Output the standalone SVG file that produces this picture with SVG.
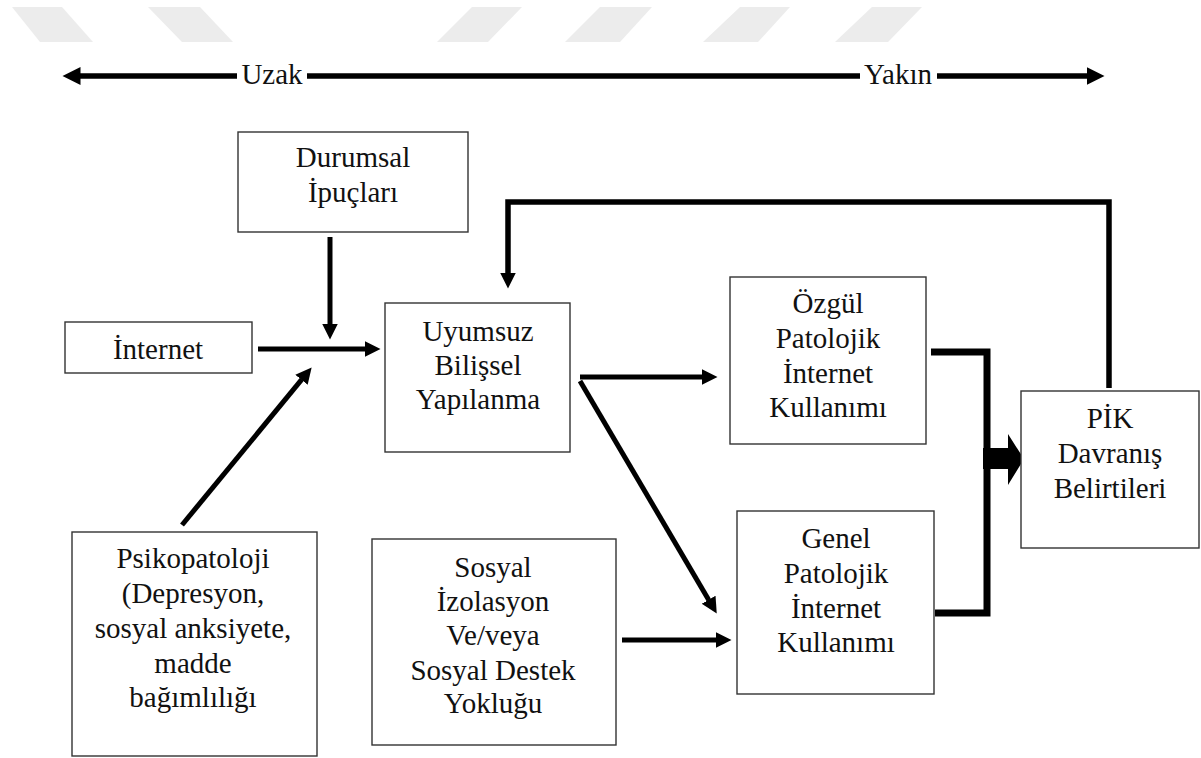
<svg xmlns="http://www.w3.org/2000/svg" width="1201" height="758" viewBox="0 0 1201 758">
<style>
.box{fill:#fff;stroke:#333;stroke-width:1.4}
.t{font-size:29px;fill:#111;text-anchor:middle}
.c{fill:none;stroke:#000;stroke-width:5}
.wm{fill:#ececec}
</style>
<defs>
<marker id="ah" markerUnits="userSpaceOnUse" markerWidth="17" markerHeight="17" refX="0.5" refY="8" orient="auto">
<path d="M0,0 L16,8 L0,16 z" fill="#000"/>
</marker>
<marker id="ah2" markerUnits="userSpaceOnUse" markerWidth="19" markerHeight="19" refX="0.5" refY="9" orient="auto">
<path d="M0,0 L18,9 L0,18 z" fill="#000"/>
</marker>
</defs>
<rect width="1201" height="758" fill="#fff"/>
<g id="watermark">
<polygon class="wm" points="12,7 62,7 93,42 40,42"/>
<polygon class="wm" points="148,7 200,7 233,42 182,42"/>
<polygon class="wm" points="472,7 522,7 488,42 437,42"/>
<polygon class="wm" points="600,7 652,7 620,42 565,42"/>
<polygon class="wm" points="740,7 790,7 758,42 703,42"/>
<polygon class="wm" points="872,7 922,7 888,42 835,42"/>
</g>
<g id="scale">
<line class="c" x1="237" y1="76" x2="80" y2="76" marker-end="url(#ah2)" style="stroke-width:5.5"/>
<line class="c" x1="307" y1="76" x2="860" y2="76" style="stroke-width:5.5"/>
<line class="c" x1="937" y1="76" x2="1087" y2="76" marker-end="url(#ah2)" style="stroke-width:5.5"/>
<text class="t" font-family="Times New Roman" x="272" y="84">Uzak</text>
<text class="t" font-family="Tinos" x="898" y="84">Yakın</text>
</g>
<g id="connectors">
<line class="c" x1="330" y1="237" x2="330" y2="324" marker-end="url(#ah)"/>
<line class="c" x1="258" y1="349" x2="365" y2="349" marker-end="url(#ah)"/>
<line class="c" x1="182" y1="525" x2="301.8" y2="379.4" marker-end="url(#ah)"/>
<path class="c" d="M1109,388 V202 H508 V273" marker-end="url(#ah)" style="stroke-width:5.5"/>
<line class="c" x1="580" y1="377" x2="702" y2="377" marker-end="url(#ah)"/>
<line class="c" x1="580" y1="381" x2="708.9" y2="600.2" marker-end="url(#ah)"/>
<line class="c" x1="622" y1="640" x2="716" y2="640" marker-end="url(#ah)"/>
<path class="c" d="M931,352 H987 V613 H935" style="stroke-width:7"/>
<polygon points="983,448 1008,448 1008,434 1024,459 1008,485 1008,469 983,469" fill="#000"/>
</g>
<g id="durumsal" font-family="'Liberation Serif'">
<rect class="box" x="238" y="132" width="230" height="100"/>
<text class="t" x="353" y="167">Durumsal</text>
<text class="t" x="353" y="202">İpuçları</text>
</g>
<g id="internet" font-family="serif">
<rect class="box" x="65" y="322" width="187" height="51"/>
<text class="t" x="158" y="359">İnternet</text>
</g>
<g id="uyumsuz" font-family="Liberation Serif">
<rect class="box" x="385" y="303" width="185" height="149"/>
<text class="t" x="478" y="341">Uyumsuz</text>
<text class="t" x="478" y="375">Bilişsel</text>
<text class="t" x="478" y="409">Yapılanma</text>
</g>
<g id="ozgul" font-family="Times New Roman">
<rect class="box" x="730" y="277" width="196" height="167"/>
<text class="t" x="828" y="313">Özgül</text>
<text class="t" x="828" y="348">Patolojik</text>
<text class="t" x="828" y="383">İnternet</text>
<text class="t" x="828" y="417">Kullanımı</text>
</g>
<g id="pik" font-family="Times">
<rect class="box" x="1021" y="391" width="178" height="157"/>
<text class="t" x="1110" y="428">PİK</text>
<text class="t" x="1110" y="463">Davranış</text>
<text class="t" x="1110" y="498">Belirtileri</text>
</g>
<g id="genel" font-family="Liberation Serif, serif">
<rect class="box" x="737" y="511" width="197" height="183"/>
<text class="t" x="836" y="548">Genel</text>
<text class="t" x="836" y="583">Patolojik</text>
<text class="t" x="836" y="618">İnternet</text>
<text class="t" x="836" y="652">Kullanımı</text>
</g>
<g id="psikopatoloji" style="font-family:'Liberation Serif', serif">
<rect class="box" x="72" y="532" width="245" height="224"/>
<text class="t" x="193" y="568">Psikopatoloji</text>
<text class="t" x="193" y="603">(Depresyon,</text>
<text class="t" x="193" y="638">sosyal anksiyete,</text>
<text class="t" x="193" y="673">madde</text>
<text class="t" x="193" y="707">bağımlılığı</text>
</g>
<g id="sosyal" font-family="Tinos, Liberation Serif">
<rect class="box" x="372" y="539" width="244" height="206"/>
<text class="t" x="493" y="577">Sosyal</text>
<text class="t" x="493" y="611">İzolasyon</text>
<text class="t" x="493" y="645">Ve/veya</text>
<text class="t" x="493" y="680">Sosyal Destek</text>
<text class="t" x="493" y="713">Yokluğu</text>
</g>
</svg>
